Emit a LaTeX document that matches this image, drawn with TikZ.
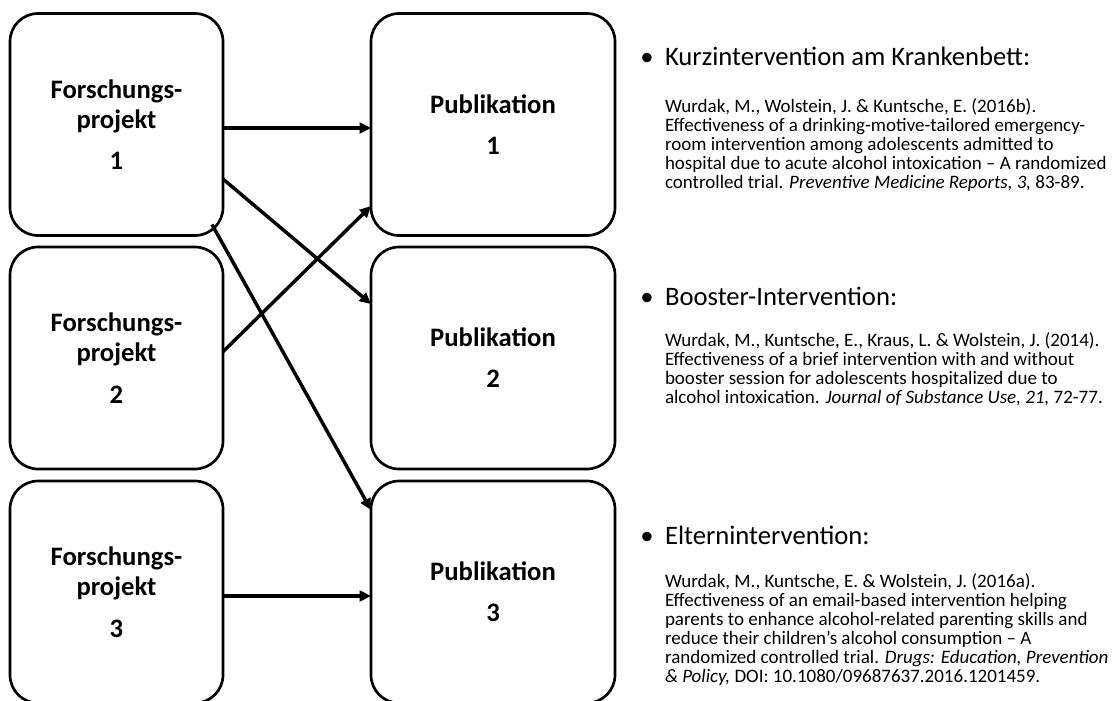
\documentclass[tikz,border=0pt]{standalone}
\usepackage{fontspec}
\setmainfont{Carlito}
\usetikzlibrary{arrows.meta,calc}

\begin{document}
\begin{tikzpicture}[x=0.75pt,y=-0.75pt,
  every node/.style={inner sep=0pt, outer sep=0pt},
  card/.style={draw=black, line width=2pt, rounded corners=21pt, fill=white,
    align=center, minimum height=166.5pt,
    font=\fontsize{20}{22.5}\selectfont\bfseries},
  projectcard/.style={card, minimum width=159.75pt},
  pubcard/.style={card, minimum width=183pt},
  link/.style={draw=black, line width=2.6pt, -{Triangle[length=8.5pt,width=8pt]}},
  headline/.style={font=\fontsize{20}{24}\selectfont},
  bulletmark/.style={font=\fontsize{20}{24}\selectfont},
  reference/.style={align=left, font=\fontsize{14.25}{14.25}\selectfont}]

% canvas
\fill[white, use as bounding box] (0,0) rectangle (1112,700);

% research projects
\node[projectcard] (p1) at (116.5,124.5) {Forschungs-\\projekt\\[8.6pt]1};
\node[projectcard] (p2) at (116.5,358) {Forschungs-\\projekt\\[8.6pt]2};
\node[projectcard] (p3) at (116.5,592) {Forschungs-\\projekt\\[8.6pt]3};

% publications
\node[pubcard] (q1) at (493,124.5) {Publikation\\[8.4pt]1};
\node[pubcard] (q2) at (493,358) {Publikation\\[8.4pt]2};
\node[pubcard] (q3) at (493,592) {Publikation\\[8.4pt]3};

% links from projects to publications
\draw[link] ($(p1.east)+(0,3.5)$) -- ($(q1.west)+(0,3.5)$);
\draw[link] ($(p1.east)+(0,54.5)$) -- ($(q2.west)+(0,-54)$);
\draw[link] ($(p2.east)+(0,-6.3)$) -- ($(q1.west)+(0,81.5)$);
\draw[link] ($(p1.south east)+(-11,-11)$) -- ($(q3.north west)+(0,29)$);
\draw[link] ($(p3.east)+(0,4)$) -- ($(q3.west)+(0,4)$);

% bibliography column
\node[bulletmark, anchor=base] (b1) at (647,65) {•};
\node[headline, anchor=base west] (h1) at (665,65) {Kurzintervention am Krankenbett:};
\node[reference, anchor=base west] (r1) at (665,188) {%
Wurdak, M., Wolstein, J. \& Kuntsche, E. (2016b).\\
Effectiveness of a drinking-motive-tailored emergency-\\
room intervention among adolescents admitted to\\
hospital due to acute alcohol intoxication – A randomized\\
controlled trial. \textit{Preventive Medicine Reports, 3,} 83-89.};

\node[bulletmark, anchor=base] (b2) at (647,305) {•};
\node[headline, anchor=base west] (h2) at (665,305) {Booster-Intervention:};
\node[reference, anchor=base west] (r2) at (665,403) {%
Wurdak, M., Kuntsche, E., Kraus, L. \& Wolstein, J. (2014).\\
Effectiveness of a brief intervention with and without\\
booster session for adolescents hospitalized due to\\
alcohol intoxication. \textit{Journal of Substance Use, 21,} 72-77.};

\node[bulletmark, anchor=base] (b3) at (647,544) {•};
\node[headline, anchor=base west] (h3) at (665,544) {Elternintervention:};
\node[reference, anchor=base west] (r3) at (665,682) {%
Wurdak, M., Kuntsche, E. \& Wolstein, J. (2016a).\\
Effectiveness of an email-based intervention helping\\
parents to enhance alcohol-related parenting skills and\\
reduce their children’s alcohol consumption – A\\
randomized controlled trial. \textit{Drugs: Education, Prevention}\\
\textit{\& Policy,} DOI: 10.1080/09687637.2016.1201459.};
\end{tikzpicture}
\end{document}
